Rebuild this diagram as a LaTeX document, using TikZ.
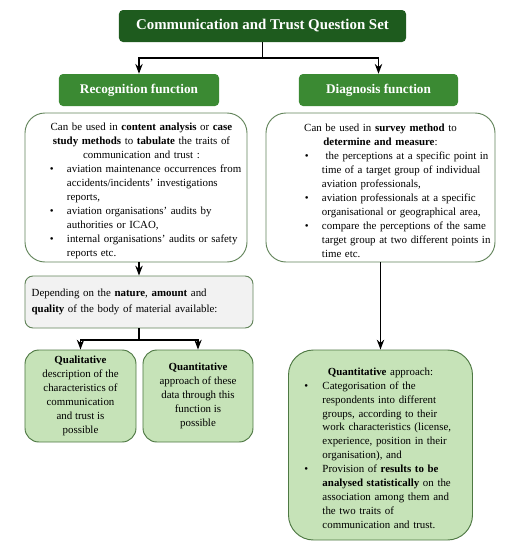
\documentclass[tikz,border=0pt]{standalone}
\usepackage{fontspec}
\setmainfont{Liberation Serif}
\usetikzlibrary{arrows.meta,positioning}
\definecolor{darkgreen}{HTML}{1E5B1E}
\definecolor{midgreen}{HTML}{3B8A33}
\definecolor{palegreen}{HTML}{C6E3B8}
\definecolor{boxline}{HTML}{62845A}
\definecolor{deepline}{HTML}{4E7843}
\definecolor{greybox}{HTML}{F2F2F2}
\setlength{\parindent}{0pt}
\newlength{\dotskip}
\newlength{\dotgap}
\newcommand{\midline}[1]{\par\hbox to\hsize{\hfil#1\hfil}}
\newcommand{\dotline}[1]{\par\hbox to\hsize{\hspace*{\dotskip}\makebox[\dotgap][l]{\textbullet}#1\hfil}}
\newcommand{\restline}[1]{\par\hbox to\hsize{\hspace*{\dotskip}\hspace*{\dotgap}#1\hfil}}

\begin{document}
\begin{tikzpicture}[x=0.03cm, y=-0.03cm]
		\tikzstyle{every node}=[font=\fontsize{9.3}{11.9}\selectfont]
		\tikzstyle{head}=[rounded corners=0.12cm, text=white, font=\fontsize{11.3}{13}\selectfont\bfseries, minimum height=0.96cm, inner sep=0pt]
		\tikzstyle{textbox}=[draw=boxline, line width=0.8pt, fill=white, rounded corners=0.6cm, inner xsep=0.2cm, inner ysep=0pt]
		\tikzstyle{resultbox}=[draw=deepline, line width=0.8pt, fill=palegreen, inner xsep=0.2cm, inner ysep=0pt]
		\tikzstyle{link}=[line width=1.2pt]
		\useasboundingbox (0,0) rectangle (512,550);
		\node [head, fill=darkgreen, minimum width=8.61cm, font=\fontsize{12.7}{14}\selectfont\bfseries] (title) at (262.5,26) {Communication and Trust Question Set};
		\node [head, fill=midgreen, minimum width=4.8cm] (recog) at (139,90) {Recognition function};
		\node [head, fill=midgreen, minimum width=4.77cm] (diag) at (378.5,90) {Diagnosis function};
		\node [textbox, text width=6.26cm, minimum height=4.47cm] (recbox) at (136,187.5) {\setlength{\dotskip}{0.55cm}\setlength{\dotgap}{0.51cm}%
			\midline{\ \ \ Can be used in \textbf{content analysis} or \textbf{case}}
			\midline{\ \ \ \textbf{study methods} to \textbf{tabulate} the traits of}
			\midline{\ \ \ communication and trust :}
			\dotline{aviation maintenance occurrences from}
			\restline{accidents/incidents' investigations}
			\restline{reports,}
			\dotline{aviation organisations' audits by}
			\restline{authorities or ICAO,}
			\dotline{internal organisations' audits or safety}
			\restline{reports etc.}};
		\node [textbox, text width=6.47cm, minimum height=4.47cm] (diagbox) at (380.5,187.5) {\setlength{\dotskip}{0.97cm}\setlength{\dotgap}{0.51cm}%
			\midline{Can be used in \textbf{survey method} to}
			\midline{\textbf{determine and measure}:}
			\dotline{\ the perceptions at a specific point in}
			\restline{time of a target group of individual}
			\restline{aviation professionals,}
			\dotline{aviation professionals at a specific}
			\restline{organisational or geographical area,}
			\dotline{compare the perceptions of the same}
			\restline{target group at two different points in}
			\restline{time etc.}};
		\node [textbox, fill=greybox, rounded corners=0.24cm, text width=6.44cm, minimum height=1.56cm, align=left, font=\fontsize{9.3}{13.5}\selectfont] (depend) at (139,302) {Depending on the \textbf{nature}, \textbf{amount} and\\ \textbf{quality} of the body of material available:};
		\node [resultbox, rounded corners=0.42cm, minimum width=3.33cm, minimum height=2.76cm, align=center, inner xsep=0pt] (qual) at (80.5,396) {\textbf{Qualitative}\\ description of the\\ characteristics of\\ communication\\ and trust is\\ possible};
		\node [resultbox, rounded corners=0.42cm, minimum width=3.3cm, minimum height=2.76cm, align=center, inner xsep=0pt] (quant) at (198,396) {\textbf{Quantitative}\\ approach of these\\ data through this\\ function is\\ possible};
		\node [resultbox, rounded corners=0.75cm, text width=5.12cm, minimum height=5.7cm] (qapp) at (380.5,445) {\setlength{\dotskip}{0.28cm}\setlength{\dotgap}{0.54cm}%
			\midline{\textbf{Quantitative} approach:}
			\dotline{Categorisation of the}
			\restline{respondents into different}
			\restline{groups, according to their}
			\restline{work characteristics (license,}
			\restline{experience, position in their}
			\restline{organisation), and}
			\dotline{Provision of \textbf{results to be}}
			\restline{\textbf{analysed statistically} on the}
			\restline{association among them and}
			\restline{the two traits of}
			\restline{communication and trust.}};
		\coordinate (split) at (262.5,58);
		\coordinate (split2) at (139,340);
		\draw [link] (title) -- (split);
		\draw [link, ->, >=Stealth] (split) -| (recog);
		\draw [link, ->, >=Stealth] (split) -| (diag);
		\draw [link, ->, >=Stealth] (recbox.south -| depend.north) -- (depend.north);
		\draw [link] (depend) -- (split2);
		\draw [link, ->, >=Stealth] (split2) -| (qual);
		\draw [link, ->, >=Stealth] (split2) -| (quant);
		\draw [link, ->, >=Stealth] (diagbox) -- (qapp);
		\end{tikzpicture}
\end{document}
